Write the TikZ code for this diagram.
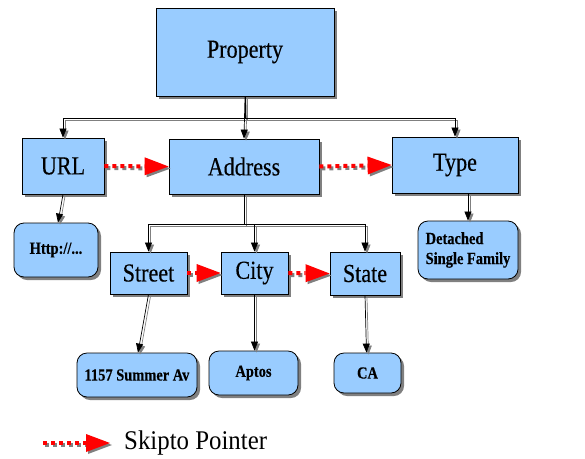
\documentclass[tikz,border=0pt]{standalone}
\usepackage{fontspec}
\setmainfont{Liberation Serif}
\newfontfamily\timesf{Liberation Serif}[FakeStretch=0.85,FakeBold=0.3]
\newfontfamily\legendf{Liberation Serif}[FakeStretch=0.92]
\usetikzlibrary{arrows.meta,shadows,calc}
\definecolor{boxblue}{HTML}{99CCFF}
\definecolor{shadowgray}{HTML}{808080}
\begin{document}
\begin{tikzpicture}[x=1pt,y=-1pt,
  box/.style={draw=black, line width=0.8pt, fill=boxblue, inner sep=0pt,
    drop shadow={shadow xshift=3pt, shadow yshift=-3pt, fill=shadowgray, opacity=1},
    font=\timesf\fontsize{26}{28}\selectfont},
  leaf/.style={box, rounded corners=10pt, font=\timesf\fontsize{17}{20}\selectfont\bfseries, align=left},
  conn/.style={draw=black, line width=0.7pt, -{Triangle[length=9pt,width=7pt]}},
  connsh/.style={draw=shadowgray, line width=0.7pt, -{Triangle[length=9pt,width=7pt]},
    transform canvas={xshift=2pt,yshift=-2pt}},
  skip/.style={draw=red, line width=4pt, dash pattern=on 4pt off 4pt,
    -{Triangle[length=24pt,width=18pt,line width=0pt]}},
  skipsh/.style={skip, draw=shadowgray, transform canvas={xshift=2pt,yshift=-2pt}}
]
\useasboundingbox (0,0) rectangle (585,458);

% top level
\node[box, minimum width=178pt, minimum height=88pt] (prop) at (245,52) {Property};
% second level
\node[box, minimum width=82pt, minimum height=56pt] (url) at (63,166) {URL};
\node[box, minimum width=150pt, minimum height=55pt] (addr) at (244,166.5) {Address};
\node[box, minimum width=126pt, minimum height=56pt] (type) at (455,165) {Type};
% leaves of second level
\node[leaf, minimum width=84pt, minimum height=54pt] (http) at (56,250) {Http://...};
\node[leaf, minimum width=100pt, minimum height=58pt] (det) at (468,250) {Detached\\Single Family};
% third level
\node[box, minimum width=77pt, minimum height=42pt] (street) at (148.5,273) {Street};
\node[box, minimum width=67pt, minimum height=42pt] (city) at (254.5,273) {City};
\node[box, minimum width=70pt, minimum height=43pt] (state) at (365,273.5) {State};
% leaves of third level
\node[leaf, minimum width=120pt, minimum height=44pt] (sum) at (137,375) {1157 Summer Av};
\node[leaf, minimum width=89pt, minimum height=44pt] (aptos) at (253.5,373) {Aptos};
\node[leaf, minimum width=67pt, minimum height=40pt] (ca) at (367.5,373) {CA};

% junctions
\coordinate (pj) at (245,118);
\coordinate (aj) at (244,224);

% legend
\coordinate (lg1) at (43,443);
\coordinate (lg2) at (110,443);
\node[anchor=west, inner sep=0pt, font=\legendf\fontsize{27}{29}\selectfont] (lgt) at (124,443) {Skipto Pointer};

% tree connectors (shadow first, then line)
\foreach \s in {connsh,conn}{
  \draw[\s] (prop.south) -- (pj) -| (url.north);
  \draw[\s] (pj) -| (type.north);
  \draw[\s] (prop.south) -- (addr.north);
  \draw[\s] (addr.south) -- (aj) -| (street.north);
  \draw[\s] (aj) -| (city.north);
  \draw[\s] (aj) -| (state.north);
  \draw[\s] (url.south) -- ([xshift=2pt]http.north);
  \draw[\s] (type.south -| det.north) -- (det.north);
  \draw[\s] (street.south) -- ([xshift=1pt]sum.north);
  \draw[\s] (city.south) -- (city.south |- aptos.north);
  \draw[\s] (state.south) -- ([xshift=-1pt]ca.north);
}

% skipto pointers
\foreach \s in {skipsh,skip}{
  \draw[\s] (url.east) -- (addr.west);
  \draw[\s] (addr.east) -- (type.west);
  \draw[\s] (street.east) -- (city.west);
  \draw[\s] (city.east) -- (state.west);
  \draw[\s] (lg1) -- (lg2);
}
\end{tikzpicture}
\end{document}
